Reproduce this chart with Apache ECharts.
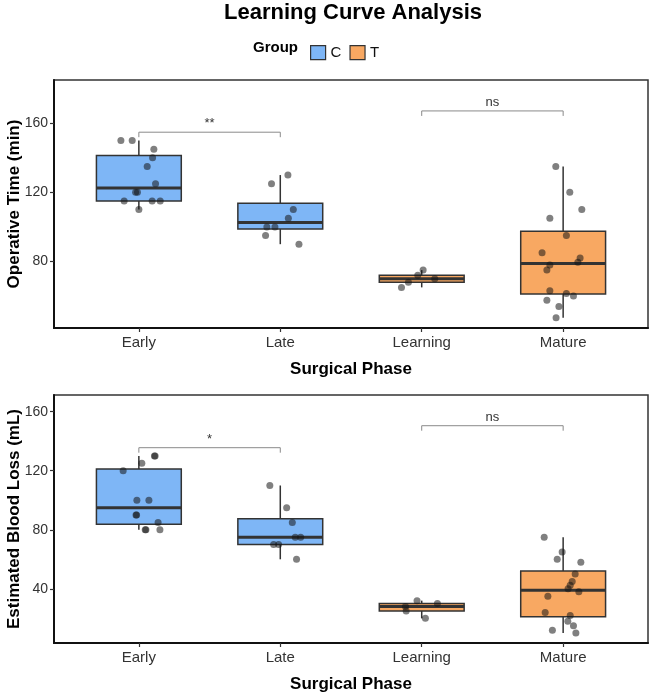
<!DOCTYPE html>
<html>
<head>
<meta charset="utf-8">
<title>Learning Curve Analysis</title>
<script src="https://cdn.jsdelivr.net/npm/echarts@6/dist/echarts.min.js"></script>
<style>
    html, body { margin: 0; padding: 0; background: #fff; }
    #main { width: 650px; height: 697px; }
</style>
</head>
<body>
<div id="main"></div>
<script>
// categories on the x axis and which group each one belongs to
var phases = ['Early', 'Late', 'Learning', 'Mature'];
var phaseGroup = ['C', 'C', 'T', 'T'];

// Operative Time (min), raw points + horizontal jitter (category units)
var opEarly = [150, 150, 145, 140, 135, 125, 120, 120, 115, 115, 115, 110];
var opEarlyJit = [-0.127, -0.047, 0.106, 0.097, 0.059, 0.118, -0.023, -0.010, -0.104, 0.094, 0.151, 0.000];
var opLate = [130, 125, 110, 105, 100, 100, 95, 90];
var opLateJit = [0.054, -0.062, 0.092, 0.057, -0.095, -0.038, -0.104, 0.132];
var opLearning = [75, 72, 70, 68, 65];
var opLearningJit = [0.010, -0.028, 0.092, -0.094, -0.143];
var opMature = [135, 120, 110, 105, 95, 85, 82, 79.5, 78, 75, 63, 61.5, 60, 57.5, 54, 47.5];
var opMatureJit = [-0.052, 0.047, 0.132, -0.094, 0.023, -0.149, 0.120, 0.104, -0.094, -0.115, -0.094, 0.023, 0.073, -0.115, -0.030, -0.050];

// Estimated Blood Loss (mL)
var eblEarly = [130, 130, 125, 120, 100, 100, 90, 90, 85, 80, 80, 80];
var eblEarlyJit = [0.115, 0.110, 0.021, -0.111, -0.014, 0.071, -0.016, -0.020, 0.136, 0.045, 0.050, 0.149];
var eblLate = [110, 95, 85, 75, 75, 70, 70, 60];
var eblLateJit = [-0.074, 0.045, 0.085, 0.106, 0.144, -0.047, -0.012, 0.115];
var eblLearning = [32, 30, 28, 25, 20];
var eblLearningJit = [-0.033, 0.111, -0.115, -0.110, 0.026];
var eblMature = [75, 65, 60, 58, 50, 45, 42.5, 40, 38, 35, 24, 22, 18, 15, 12, 10];
var eblMatureJit = [-0.134, -0.007, -0.042, 0.125, 0.085, 0.064, 0.050, 0.035, 0.111, -0.108, -0.127, 0.050, 0.033, 0.073, -0.076, 0.090];

// significance brackets: [from, to] category positions, bracket height, label
var sigPairs = [[1, 2], [3, 4]];
var opSigY = [154.8, 167.1];
var opSigLabel = ['**', 'ns'];
var eblSigY = [135.6, 150.5];
var eblSigLabel = ['*', 'ns'];

// y ticks
var opTicks = [80, 120, 160];
var eblTicks = [40, 80, 120, 160];

var groupColor = { C: '#7EB6F6', T: '#F8A862' };
var FONT = 'Liberation Sans, Arial, sans-serif';

// quantile type 7 (same as R default)
function quantile(sorted, p){
    var pos = (sorted.length - 1) * p;
    var lo = Math.floor(pos), hi = Math.ceil(pos);
    return sorted[lo] + (sorted[hi] - sorted[lo]) * (pos - lo);
}

function boxStats(x, values){
    var s = values.slice().sort(function(a, b){ return a - b; });
    var q1 = quantile(s, 0.25), med = quantile(s, 0.5), q3 = quantile(s, 0.75);
    var iqr = q3 - q1;
    var lo = s[s.length - 1], hi = s[0];
    s.forEach(function(v){
        if (v >= q1 - 1.5 * iqr && v < lo) lo = v;
        if (v <= q3 + 1.5 * iqr && v > hi) hi = v;
    });
    return [x, lo, q1, med, q3, hi];
}

function renderBox(params, api){
    var x = api.value(0);
    var hw = 0.3;
    var pHi = api.coord([x, api.value(5)]);
    var pQ3 = api.coord([x, api.value(4)]);
    var pQ1 = api.coord([x, api.value(2)]);
    var pLo = api.coord([x, api.value(1)]);
    var pLT = api.coord([x - hw, api.value(4)]);
    var pRB = api.coord([x + hw, api.value(2)]);
    var pML = api.coord([x - hw, api.value(3)]);
    var pMR = api.coord([x + hw, api.value(3)]);
    var lineStyle = { stroke: '#333', lineWidth: 1.5 };
    return {
        type: 'group',
        children: [
            { type: 'line', shape: { x1: pHi[0], y1: pHi[1], x2: pQ3[0], y2: pQ3[1] }, style: lineStyle },
            { type: 'line', shape: { x1: pQ1[0], y1: pQ1[1], x2: pLo[0], y2: pLo[1] }, style: lineStyle },
            { type: 'rect', shape: { x: pLT[0], y: pLT[1], width: pRB[0] - pLT[0], height: pRB[1] - pLT[1] },
              style: { fill: api.visual('color'), stroke: '#333', lineWidth: 1.5 } },
            { type: 'line', shape: { x1: pML[0], y1: pML[1], x2: pMR[0], y2: pMR[1] },
              style: { stroke: '#333', lineWidth: 3 } }
        ]
    };
}

function makeBracketRenderer(labels){
    return function(params, api){
        var a = api.coord([api.value(0), api.value(2)]);
        var b = api.coord([api.value(1), api.value(2)]);
        var tip = 5;
        return {
            type: 'group',
            children: [
                { type: 'polyline',
                  shape: { points: [[a[0], a[1] + tip], [a[0], a[1]], [b[0], a[1]], [b[0], b[1] + tip]] },
                  style: { stroke: '#8a8a8a', lineWidth: 1, fill: null } },
                { type: 'text', x: (a[0] + b[0]) / 2, y: a[1] - 2,
                  style: { text: labels[params.dataIndex], align: 'center', verticalAlign: 'bottom',
                           font: '13px ' + FONT, fill: '#333' } }
            ]
        };
    };
}

function jitterPoints(x, values, jit){
    return values.map(function(v, i){ return [x + jit[i], v]; });
}

function panelSeries(idx, groups, jits, sigY, sigLabel){
    var series = [];
    ['C', 'T'].forEach(function(g){
        var data = [];
        phases.forEach(function(p, i){
            if (phaseGroup[i] === g) data.push(boxStats(i + 1, groups[i]));
        });
        series.push({
            name: g,
            type: 'custom',
            xAxisIndex: idx,
            yAxisIndex: idx,
            renderItem: renderBox,
            itemStyle: { color: groupColor[g], borderColor: '#333', borderWidth: 1.2 },
            data: data,
            z: 2
        });
    });
    var pts = [];
    phases.forEach(function(p, i){
        pts = pts.concat(jitterPoints(i + 1, groups[i], jits[i]));
    });
    series.push({
        name: 'points',
        type: 'scatter',
        xAxisIndex: idx,
        yAxisIndex: idx,
        symbolSize: 7,
        itemStyle: { color: 'rgba(20,20,20,0.68)' },
        data: pts,
        z: 5,
        silent: true
    });
    series.push({
        name: 'sig',
        type: 'custom',
        xAxisIndex: idx,
        yAxisIndex: idx,
        renderItem: makeBracketRenderer(sigLabel),
        data: sigPairs.map(function(pr, i){ return [pr[0], pr[1], sigY[i]]; }),
        z: 3,
        silent: true
    });
    return series;
}

function xAxisOpt(idx){
    return {
        type: 'value',
        gridIndex: idx,
        min: 0.4,
        max: 4.6,
        name: 'Surgical Phase',
        nameLocation: 'middle',
        nameGap: 33,
        nameMoveOverlap: false,
        nameTextStyle: { fontFamily: FONT, fontWeight: 'bold', fontSize: 17, color: '#000' },
        axisLine: { onZero: false, lineStyle: { color: '#111', width: 2 } },
        axisTick: { customValues: [1, 2, 3, 4], length: 4, lineStyle: { color: '#333', width: 1.2 } },
        axisLabel: {
            customValues: [1, 2, 3, 4],
            margin: 7,
            fontFamily: FONT, fontSize: 15, color: '#333',
            formatter: function(v){ return phases[Math.round(v) - 1]; }
        },
        splitLine: { show: false }
    };
}

function yAxisOpt(idx, name, min, max, ticks){
    return {
        type: 'value',
        gridIndex: idx,
        min: min,
        max: max,
        name: name,
        nameLocation: 'middle',
        nameGap: 31,
        nameMoveOverlap: false,
        nameTextStyle: { fontFamily: FONT, fontWeight: 'bold', fontSize: 17, color: '#000' },
        axisLine: { show: true, lineStyle: { color: '#111', width: 2 } },
        axisTick: { customValues: ticks, length: 4, lineStyle: { color: '#333', width: 1.2 } },
        axisLabel: { customValues: ticks, margin: 6, fontFamily: FONT, fontSize: 14, color: '#333' },
        splitLine: { show: false }
    };
}

var chart = echarts.init(document.getElementById('main'));

var opSeries = panelSeries(0,
    [opEarly, opLate, opLearning, opMature],
    [opEarlyJit, opLateJit, opLearningJit, opMatureJit],
    opSigY, opSigLabel);
var eblSeries = panelSeries(1,
    [eblEarly, eblLate, eblLearning, eblMature],
    [eblEarlyJit, eblLateJit, eblLearningJit, eblMatureJit],
    eblSigY, eblSigLabel);

var option = {
    backgroundColor: '#fff',
    animation: false,
    graphic: [
        { type: 'text', x: 353, y: 13,
          style: { text: 'Learning Curve Analysis', align: 'center', verticalAlign: 'middle',
                   font: 'bold 22px ' + FONT, fill: '#000' } },
        { type: 'text', x: 253, y: 48,
          style: { text: 'Group', align: 'left', verticalAlign: 'middle',
                   font: 'bold 15px ' + FONT, fill: '#000' } }
    ],
    legend: {
        data: ['C', 'T'],
        left: 305,
        top: 40,
        icon: 'rect',
        itemWidth: 15,
        itemHeight: 14,
        itemGap: 8,
        itemStyle: { borderColor: '#333', borderWidth: 1.2 },
        textStyle: { fontFamily: FONT, fontSize: 15, color: '#111' }
    },
    grid: [
        { left: 54, right: 2, top: 80, height: 248, outerBoundsMode: 'none',
          show: true, borderColor: '#333', borderWidth: 1.5 },
        { left: 54, right: 2, top: 395, height: 248, outerBoundsMode: 'none',
          show: true, borderColor: '#333', borderWidth: 1.5 }
    ],
    xAxis: [xAxisOpt(0), xAxisOpt(1)],
    yAxis: [
        yAxisOpt(0, 'Operative Time (min)', 41.5, 185, opTicks),
        yAxisOpt(1, 'Estimated Blood Loss (mL)', 3.3, 171.3, eblTicks)
    ],
    series: opSeries.concat(eblSeries)
};

chart.setOption(option);
</script>
</body>
</html>
